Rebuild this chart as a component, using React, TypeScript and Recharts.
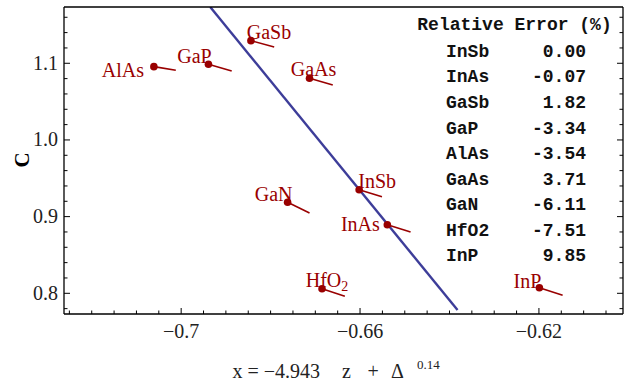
import React from "react";
import { ScatterChart, Scatter, XAxis, YAxis, ReferenceLine } from "recharts";

// points: z on the x axis, C on the y axis
const compounds = ["AlAs", "GaP", "GaSb", "GaAs", "GaN", "InSb", "InAs", "HfO2", "InP"];
const zValues = [-0.7061, -0.6939, -0.6844, -0.6713, -0.6762, -0.6602, -0.6539, -0.6685, -0.6199];
const cValues = [1.0956, 1.0987, 1.1295, 1.0804, 0.9187, 0.9351, 0.8895, 0.806, 0.8073];
// end of the short whisker drawn from each point
const zEnds = [-0.7012, -0.6887, -0.6792, -0.6661, -0.6713, -0.6551, -0.6487, -0.6634, -0.6147];
const cEnds = [1.0909, 1.09, 1.1213, 1.0717, 0.9048, 0.926, 0.88, 0.7961, 0.7974];

// fitted line
const fitZ = [-0.6935, -0.6382];
const fitC = [1.1734, 0.7782];

// relative error table
const tableNames = ["InSb", "InAs", "GaSb", "GaP", "AlAs", "GaAs", "GaN", "HfO2", "InP"];
const tableErrors = [0.0, -0.07, 1.82, -3.34, -3.54, 3.71, -6.11, -7.51, 9.85];

const xMajor = [-0.7, -0.66, -0.62];
const xMinor = [
  -0.725, -0.72, -0.715, -0.71, -0.705, -0.695, -0.69, -0.685, -0.68, -0.675, -0.67,
  -0.665, -0.655, -0.65, -0.645, -0.64, -0.635, -0.63, -0.625, -0.615, -0.61, -0.605,
];
const yMajor = [0.8, 0.9, 1.0, 1.1];
const yMinor = [0.78, 0.82, 0.84, 0.86, 0.88, 0.92, 0.94, 0.96, 0.98, 1.02, 1.04, 1.06, 1.08, 1.12, 1.14, 1.16];

const X_DOMAIN = [-0.7262, -0.6012];
const Y_DOMAIN = [0.773, 1.1734];

const RED = "#990000";
const BLUE = "#3d3d99";
const SERIF = "'Liberation Serif', 'Times New Roman', serif";
const MONO = "'Liberation Mono', 'Courier New', monospace";

const labelOffset: Record<string, [number, number]> = {
  AlAs: [-31, 10],
  GaP: [-14, -1],
  GaSb: [18, -1.5],
  GaAs: [4, -2],
  GaN: [-14, -1.5],
  InSb: [18, -1.5],
  InAs: [-27, 6],
  HfO2: [5, -2],
  InP: [-12, 0.5],
};

const points = compounds.map((name, i) => ({ name, z: zValues[i], c: cValues[i] }));
const xTicks = [...xMajor, ...xMinor].sort((a, b) => a - b);
const yTicks = [...yMajor, ...yMinor].sort((a, b) => a - b);

const fmtX = (v: number) => "\u2212" + Math.abs(v).toString();
const fmtY = (v: number) => v.toFixed(1);

const FrameTick = (props: any) => {
  const { x, y, payload, side, majors, fmt } = props;
  const v = payload.value;
  const isMajor = majors.some((m: number) => Math.abs(m - v) < 1e-9);
  const len = isMajor ? 6 : 3.5;
  let line = null;
  if (side === "bottom") line = <line x1={x} y1={y} x2={x} y2={y - len} />;
  if (side === "top") line = <line x1={x} y1={y} x2={x} y2={y + len} />;
  if (side === "left") line = <line x1={x} y1={y} x2={x + len} y2={y} />;
  if (side === "right") line = <line x1={x} y1={y} x2={x - len} y2={y} />;
  let label = null;
  if (fmt && isMajor) {
    if (side === "bottom")
      label = (
        <text x={x} y={y + 24} textAnchor="middle" fontFamily={SERIF} fontSize={20} fill="#222">
          {fmt(v)}
        </text>
      );
    if (side === "left")
      label = (
        <text x={x - 6} y={y + 6.5} textAnchor="end" fontFamily={SERIF} fontSize={20} fill="#222">
          {fmt(v)}
        </text>
      );
  }
  return (
    <g>
      <g stroke="#000" strokeWidth={1}>{line}</g>
      {label}
    </g>
  );
};

const PointMark = (props: any) => {
  const { cx, cy, payload } = props;
  const [dx, dy] = labelOffset[payload.name] || [0, 0];
  return (
    <g>
      <circle cx={cx} cy={cy} r={3.8} fill={RED} />
      <text x={cx + dx} y={cy + dy} textAnchor="middle" fontFamily={SERIF} fontSize={20} fill={RED}>
        {payload.name === "HfO2" ? (
          <>
            HfO<tspan fontSize={14} dy={4}>2</tspan>
          </>
        ) : (
          payload.name
        )}
      </text>
    </g>
  );
};

const axisLine = { stroke: "#000", strokeWidth: 1.3 };

export default function App() {
  return (
    <div style={{ position: "absolute", left: 0, top: 0, background: "#fff" }}>
      <ScatterChart width={625} height={383} margin={{ top: 6, right: 1, bottom: 9, left: 14 }}>
        <XAxis
          xAxisId="b"
          type="number"
          dataKey="z"
          domain={X_DOMAIN}
          allowDataOverflow
          ticks={xTicks}
          interval={0}
          height={60}
          tickSize={0}
          tickMargin={0}
          tickLine={false}
          axisLine={axisLine}
          tick={<FrameTick side="bottom" majors={xMajor} fmt={fmtX} />}
        />
        <XAxis
          xAxisId="t"
          orientation="top"
          type="number"
          domain={X_DOMAIN}
          allowDataOverflow
          ticks={xTicks}
          interval={0}
          height={1}
          tickSize={0}
          tickMargin={0}
          tickLine={false}
          axisLine={axisLine}
          tick={<FrameTick side="top" majors={xMajor} />}
        />
        <YAxis
          yAxisId="l"
          type="number"
          dataKey="c"
          domain={Y_DOMAIN}
          allowDataOverflow
          ticks={yTicks}
          interval={0}
          width={50}
          tickSize={0}
          tickMargin={0}
          tickLine={false}
          axisLine={axisLine}
          tick={<FrameTick side="left" majors={yMajor} fmt={fmtY} />}
        />
        <YAxis
          yAxisId="r"
          orientation="right"
          type="number"
          domain={Y_DOMAIN}
          allowDataOverflow
          ticks={yTicks}
          interval={0}
          width={1}
          tickSize={0}
          tickMargin={0}
          tickLine={false}
          axisLine={axisLine}
          tick={<FrameTick side="right" majors={yMajor} />}
        />
        <ReferenceLine
          xAxisId="b"
          yAxisId="l"
          segment={[
            { x: fitZ[0], y: fitC[0] },
            { x: fitZ[1], y: fitC[1] },
          ]}
          stroke={BLUE}
          strokeWidth={2.4}
          ifOverflow="hidden"
        />
        {compounds.map((name, i) => (
          <ReferenceLine
            key={name}
            xAxisId="b"
            yAxisId="l"
            segment={[
              { x: zValues[i], y: cValues[i] },
              { x: zEnds[i], y: cEnds[i] },
            ]}
            stroke={RED}
            strokeWidth={1.6}
            ifOverflow="visible"
          />
        ))}
        <Scatter
          xAxisId="b"
          yAxisId="l"
          data={points}
          shape={<PointMark />}
          isAnimationActive={false}
        />
        <text
          transform="translate(28.5,160) rotate(-90)"
          textAnchor="middle"
          fontFamily={SERIF}
          fontWeight="bold"
          fontSize={21}
          fill="#000"
        >
          C
        </text>
        <text fontFamily={SERIF} fontSize={20} fill="#222">
          <tspan x={232.5} y={378}>x = {"\u2212"}4.943</tspan>
          <tspan x={342} y={378}>z</tspan>
          <tspan x={367.5} y={378}>+</tspan>
          <tspan x={391} y={378}>{"\u0394"}</tspan>
          <tspan x={417} y={369} fontSize={13}>0.14</tspan>
        </text>
        <g fontFamily={MONO} fontWeight="bold" fontSize={18} fill="#111">
          <text x={514.5} y={30.2} textAnchor="middle" style={{ whiteSpace: "pre" }}>
            Relative Error (%)
          </text>
          {tableNames.map((n, i) => (
            <g key={n}>
              <text x={446} y={56.9 + i * 25.54}>
                {n}
              </text>
              <text x={586} y={56.9 + i * 25.54} textAnchor="end">
                {tableErrors[i].toFixed(2)}
              </text>
            </g>
          ))}
        </g>
      </ScatterChart>
    </div>
  );
}
